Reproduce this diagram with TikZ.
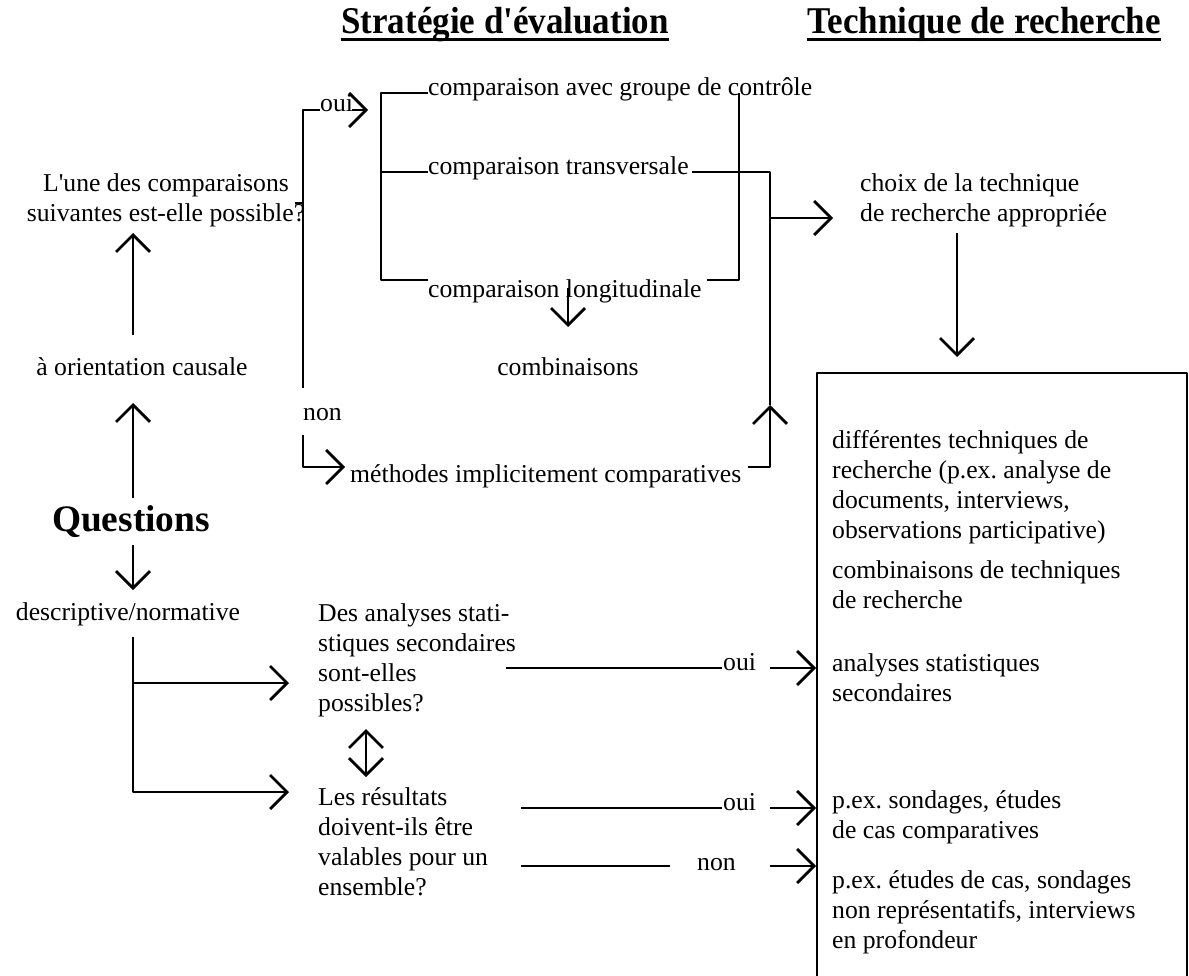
\documentclass[tikz,border=0pt]{standalone}
\usepackage{fontspec}
\setmainfont{Liberation Serif}[Ligatures=TeXOff]
\usetikzlibrary{arrows.meta}
\frenchspacing
\begin{document}
\begin{tikzpicture}[x=1pt,y=-1pt,
  txt/.style={inner sep=0pt, font=\fontsize{25.7}{30}\selectfont},
  ttl/.style={inner sep=0pt, font=\fontsize{35}{40}\selectfont\bfseries},
  ln/.style={line width=2.8pt, line join=round},
  arr/.style={ln, -{Straight Barb[length=17pt,width=34pt]}},
  dbl/.style={ln, {Straight Barb[length=17pt,width=34pt]}-{Straight Barb[length=17pt,width=34pt]}}
]
\useasboundingbox (0,0) rectangle (1189,976);
% titles
\node[ttl, anchor=base] (t1) at (505,34) {\scalebox{1}[1.08]{Stratégie d'évaluation}};
\node[ttl, anchor=base] (t2) at (984,34) {\scalebox{1}[1.08]{Technique de recherche}};
\draw[line width=3pt] ([yshift=-6pt]t1.base west) -- ([yshift=-6pt]t1.base east);
\draw[line width=3pt] ([yshift=-6pt]t2.base west) -- ([yshift=-6pt]t2.base east);
% left column
\node[txt, align=center, anchor=north] (q1) at (166,173) {L'une des comparaisons\\suivantes est-elle possible?};
\node[txt, anchor=base] (causal) at (142,375) {à orientation causale};
\node[inner sep=0pt, font=\fontsize{37.4}{40}\selectfont\bfseries, anchor=base] (quest) at (131,531) {Questions};
\node[txt, anchor=base] (descr) at (128,620) {descriptive/normative};
\node[txt, align=left, anchor=north west] (stat) at (318,603) {Des analyses stati-\\stiques secondaires\\sont-elles\\possibles?};
\node[txt, align=left, anchor=north west] (res) at (318,787) {Les résultats\\doivent-ils être\\valables pour un\\ensemble?};
\node[txt, anchor=base west] (oui2) at (723,670) {oui};
\node[txt, anchor=base west] (oui3) at (723,810) {oui};
\node[txt, anchor=base west] (non3) at (697,870) {non};
% top middle
\node[txt, anchor=base west] (oui1) at (320,112) {oui};
\node[txt, anchor=base west] (non1) at (303,420) {non};
\node[txt, anchor=base west] (meth) at (350,482) {méthodes implicitement comparatives};
\node[txt, anchor=base west] (cmp1) at (428,96) {comparaison avec groupe de contrôle};
\node[txt, anchor=base west] (cmp2) at (428,175) {comparaison transversale};
\node[txt, anchor=base west] (cmp3) at (428,298) {comparaison longitudinale};
\node[txt, anchor=base] (comb) at (568,375) {combinaisons};
% right
\node[txt, align=left, anchor=north west] (choix) at (860,173) {choix de la technique\\de recherche appropriée};
\node[txt, align=left, anchor=north west] (b1) at (832,430) {différentes techniques de\\recherche (p.ex. analyse de\\documents, interviews,\\observations participative)};
\node[txt, align=left, anchor=north west] (b2) at (832,560) {combinaisons de techniques\\de recherche};
\node[txt, align=left, anchor=north west] (b3) at (832,653) {analyses statistiques\\secondaires};
\node[txt, align=left, anchor=north west] (b4) at (832,790) {p.ex. sondages, études\\de cas comparatives};
\node[txt, align=left, anchor=north west] (b5) at (832,870) {p.ex. études de cas, sondages\\non représentatifs, interviews\\en profondeur};
% coordinates
\coordinate (qa) at (295,203);
\coordinate (tk) at (303,203);
\coordinate (tktop) at (303,110);
\coordinate (tkbot) at (303,388);
\coordinate (ouiL) at (320,110);
\coordinate (ouiA) at (352,110);
\coordinate (ouiT) at (368,110);
\coordinate (nonS) at (303,435);
\coordinate (nonT) at (345,467);
\coordinate (bk1) at (428,93);
\coordinate (bk2) at (428,172);
\coordinate (bk2L) at (381,172);
\coordinate (bk3L) at (381,280);
\coordinate (bk3) at (428,280);
\coordinate (rb1) at (739,93);
\coordinate (rb3) at (739,280);
\coordinate (rb3L) at (707,280);
\coordinate (tr) at (692,172);
\coordinate (up) at (770,405);
\coordinate (mE) at (748,467);
\coordinate (brS) at (770,218);
\coordinate (brT) at (833,218);
\coordinate (lgS) at (568,288);
\coordinate (lgT) at (568,327);
\coordinate (chS) at (957,233);
\coordinate (chT) at (957,357);
\coordinate (boxBL) at (817,990);
\coordinate (boxTL) at (817,373);
\coordinate (boxTR) at (1187,373);
\coordinate (boxBR) at (1187,990);
\coordinate (l1a) at (133,335);
\coordinate (l1b) at (133,233);
\coordinate (l2a) at (133,498);
\coordinate (l2b) at (133,403);
\coordinate (l3a) at (133,545);
\coordinate (l3b) at (133,590);
\coordinate (l4a) at (133,637);
\coordinate (l4m) at (133,683);
\coordinate (l4b) at (289,683);
\coordinate (l5b) at (289,792);
\coordinate (dA) at (366,729);
\coordinate (dB) at (366,777);
\coordinate (o2a) at (506,668);
\coordinate (o2b) at (722,668);
\coordinate (o2c) at (770,668);
\coordinate (o2d) at (816,668);
\coordinate (o3a) at (521,808);
\coordinate (o3b) at (722,808);
\coordinate (o3c) at (770,808);
\coordinate (o3d) at (816,808);
\coordinate (n3a) at (521,866);
\coordinate (n3b) at (670,866);
\coordinate (n3c) at (770,866);
\coordinate (n3d) at (816,866);
% connectors
\draw[arr] (l1a) -- (l1b);
\draw[arr] (l2a) -- (l2b);
\draw[arr] (l3a) -- (l3b);
\draw[arr] (l4a) |- (l5b);
\draw[arr] (l4m) -- (l4b);
\draw[dbl] (dA) -- (dB);
\draw[ln] (o2a) -- (o2b);
\draw[arr] (o2c) -- (o2d);
\draw[ln] (o3a) -- (o3b);
\draw[arr] (o3c) -- (o3d);
\draw[ln] (n3a) -- (n3b);
\draw[arr] (n3c) -- (n3d);
\draw[ln] (qa) -- (tk);
\draw[ln] (ouiL) -- (tktop) -- (tkbot);
\draw[arr] (ouiA) -- (ouiT);
\draw[arr] (nonS) |- (nonT);
\draw[ln] (bk1) -| (bk3L) -- (bk3);
\draw[ln] (bk2L) -- (bk2);
\draw[ln] (rb1) -- (rb3) -- (rb3L);
\draw[ln] (tr) -| (up);
\draw[arr] (mE) -| (up);
\draw[arr] (brS) -- (brT);
\draw[arr] (lgS) -- (lgT);
\draw[arr] (chS) -- (chT);
\draw[ln] (boxBL) -- (boxTL) -- (boxTR) -- (boxBR);
\end{tikzpicture}
\end{document}
